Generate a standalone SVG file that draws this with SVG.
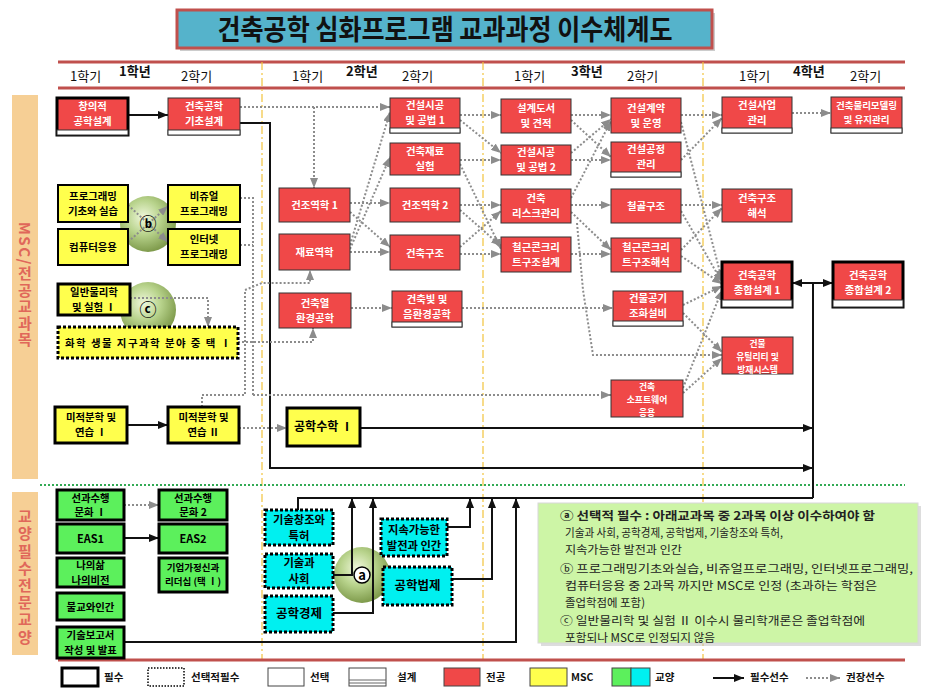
<svg xmlns="http://www.w3.org/2000/svg" width="929" height="695" viewBox="0 0 929 695">
<style>
text{font-family:"Noto Sans CJK KR","Noto Sans",sans-serif;}
.r{fill:#f04848;stroke:#333;stroke-width:1}
.y{fill:#ffff4d;stroke:#000;stroke-width:2}
.g{fill:#5cf05c;stroke:#000;stroke-width:3}
.c{fill:#00f0f0;stroke:#000;stroke-width:3;stroke-dasharray:3 2}
.tk{stroke:#000;stroke-width:3}
.dt{stroke:#000;stroke-width:3;stroke-dasharray:3 2}
.strip{fill:#fff;stroke:#333;stroke-width:1}
.wt{fill:#fff;font-size:10.4px;font-weight:700;text-anchor:middle}
.bt{fill:#000;font-size:10.4px;font-weight:700;text-anchor:middle}
.ct{fill:#000;font-size:11.3px;font-weight:700;text-anchor:middle}
.d{fill:none;stroke:#8c8c8c;stroke-width:2;stroke-dasharray:2 2;marker-end:url(#ag)}
.dn{fill:none;stroke:#8c8c8c;stroke-width:2;stroke-dasharray:2 2}
.s{fill:none;stroke:#111;stroke-width:2;marker-end:url(#ab)}
.sn{fill:none;stroke:#111;stroke-width:2}
.yl{stroke:#f2c43c;stroke-width:1.2;stroke-dasharray:8 3 2 3}
.hd{font-size:13px;fill:#111}
.hy{font-size:13px;font-weight:700;fill:#111}
.nt{font-size:11.7px;fill:#222}
.lg{font-size:10.5px;font-weight:700;fill:#111}
.side{font-size:15px;font-weight:700;fill:#e0675a;writing-mode:vertical-rl;text-orientation:mixed}
</style>
<defs>
<marker id="ab" viewBox="0 0 10 8" refX="10" refY="4" markerWidth="10" markerHeight="8" markerUnits="userSpaceOnUse" orient="auto"><path d="M0,0 L10,4 L0,8 z" fill="#111"/></marker>
<marker id="ag" viewBox="0 0 10 8" refX="10" refY="4" markerWidth="10" markerHeight="8" markerUnits="userSpaceOnUse" orient="auto"><path d="M0,0 L10,4 L0,8 z" fill="#8c8c8c"/></marker>
<radialGradient id="ball" cx="42%" cy="38%" r="62%">
<stop offset="0" stop-color="#f0f8dc"/>
<stop offset="0.5" stop-color="#b8d38c"/>
<stop offset="1" stop-color="#7f9b4c"/>
</radialGradient>
</defs>
<rect width="929" height="695" fill="#fff"/>

<!-- title -->
<g id="title">
<rect x="180" y="13" width="535" height="38" fill="#999" opacity="0.5"/>
<rect x="177" y="10" width="535" height="38" fill="#55b3cb" stroke="#c0504d" stroke-width="3"/>
<text x="445" y="40" font-size="28" font-weight="700" text-anchor="middle" textLength="455" lengthAdjust="spacingAndGlyphs" fill="#111">건축공학 심화프로그램 교과과정 이수체계도</text>
</g>

<!-- header -->
<g id="header">
<line x1="58" y1="62" x2="905" y2="62" stroke="#c0504d" stroke-width="3"/>
<line x1="58" y1="88" x2="905" y2="88" stroke="#c0504d" stroke-width="3"/>
<text class="hd" x="70" y="81">1학기</text>
<text class="hy" x="119" y="76">1학년</text>
<text class="hd" x="181" y="81">2학기</text>
<text class="hd" x="292" y="81">1학기</text>
<text class="hy" x="346" y="76">2학년</text>
<text class="hd" x="402" y="81">2학기</text>
<text class="hd" x="514" y="81">1학기</text>
<text class="hy" x="571" y="76">3학년</text>
<text class="hd" x="627" y="81">2학기</text>
<text class="hd" x="739" y="81">1학기</text>
<text class="hy" x="793" y="76">4학년</text>
<text class="hd" x="850" y="81">2학기</text>
</g>

<!-- side bars -->
<g id="side-msc">
<rect x="12" y="95" width="26" height="384" fill="#f6cf95"/>
<text class="side" x="25" y="222" letter-spacing="1.5">MSC/전공교과목</text>
</g>
<g id="side-gy">
<rect x="12" y="492" width="26" height="163" fill="#f6cf95"/>
<text class="side" x="25" y="509" letter-spacing="2.2">교양필수전문교양</text>
</g>

<!-- guide lines -->
<g id="guides">
<line class="yl" x1="262" y1="62" x2="262" y2="660"/>
<line class="yl" x1="483" y1="62" x2="483" y2="660"/>
<line class="yl" x1="703" y1="62" x2="703" y2="660"/>
<line x1="40" y1="485" x2="905" y2="485" stroke="#33aa55" stroke-width="2" stroke-dasharray="2 2"/>
<line x1="58" y1="660" x2="905" y2="660" stroke="#c0504d" stroke-width="3"/>
</g>

<!-- group circles -->
<g id="circles">
<circle cx="148" cy="224" r="28" fill="url(#ball)"/>
<circle cx="148" cy="310" r="28" fill="url(#ball)"/>
<circle cx="362" cy="575" r="28" fill="url(#ball)"/>
</g>

<!-- connectors -->
<g id="connectors">
<path class="s" d="M128,115 H168"/>
<path class="s" d="M127,425 H168"/>
<path class="s" d="M124,538 H159"/>
<path class="s" d="M240,123 H270 V468 H813"/>
<path class="s" d="M360,428 H813"/>
<path class="sn" d="M813,498 V283"/>
<path class="s" d="M813,283 H792"/>
<path class="s" d="M813,283 H833"/>
<path class="sn" d="M298,510 V498 H813"/>
<path class="s" d="M333,575 H352 V498"/>
<path class="s" d="M333,613 H373 V498"/>
<path class="s" d="M447,527 H470 V498"/>
<path class="s" d="M452,579 H492 V498"/>
<path class="s" d="M124,642 H516 V498"/>
<path class="d" d="M124,505 H159"/>
<path class="d" d="M128,205 L168,242"/>
<path class="d" d="M128,242 L168,206"/>
<path class="d" d="M130,298 H208 V327"/>
<path class="d" d="M238,342 H313 V328"/>
<path class="d" d="M202,407 V395 H245 V290 L262,283 H310 V270"/>
<path class="dn" d="M240,198 H253 V395"/>
<path class="dn" d="M240,245 H253"/>
<path class="d" d="M253,395 H611"/>
<path class="d" d="M239,428 H287"/>
<path class="d" d="M240,107 H390"/>
<path class="d" d="M314,107 V188"/>
<path class="d" d="M350,203 H390"/>
<path class="d" d="M350,212 L390,247"/>
<path class="d" d="M350,252 H390"/>
<path class="d" d="M350,245 L390,112"/>
<path class="d" d="M350,249 L390,157"/>
<path class="d" d="M351,308 H392"/>
<path class="d" d="M462,308 H613"/>
<path class="d" d="M460,115 H501"/>
<path class="d" d="M460,120 L501,153"/>
<path class="d" d="M460,160 H501"/>
<path class="d" d="M460,164 L501,249"/>
<path class="d" d="M460,205 H501"/>
<path class="d" d="M460,210 L501,246"/>
<path class="d" d="M460,247 L501,211"/>
<path class="d" d="M460,254 H501"/>
<path class="d" d="M571,115 H611"/>
<path class="d" d="M571,120 L611,157"/>
<path class="d" d="M571,153 L611,119"/>
<path class="d" d="M571,160 H611"/>
<path class="d" d="M571,198 L611,121"/>
<path class="d" d="M571,205 H611"/>
<path class="d" d="M571,212 L611,250"/>
<path class="d" d="M571,254 H611"/>
<path class="d" d="M577,223 L583,290 L593,355 H722"/>
<path class="d" d="M681,115 H722"/>
<path class="d" d="M681,160 L722,118"/>
<path class="d" d="M681,122 L722,280"/>
<path class="d" d="M681,205 H722"/>
<path class="d" d="M681,250 L722,208"/>
<path class="d" d="M681,211 L722,282"/>
<path class="d" d="M681,256 L722,284"/>
<path class="d" d="M683,305 L722,286"/>
<path class="d" d="M683,313 L722,352"/>
<path class="d" d="M683,388 L722,290"/>
<path class="d" d="M683,393 L722,358"/>
<path class="d" d="M792,113 H831"/>
</g>

<!-- circle labels -->
<g id="circle-labels">
<text x="148" y="230" font-size="17" font-weight="700" text-anchor="middle" fill="#000">ⓑ</text>
<text x="148" y="316" font-size="17" font-weight="700" text-anchor="middle" fill="#000">ⓒ</text>
<circle cx="362" cy="575" r="8" fill="#fff" stroke="#000" stroke-width="1.5"/>
<text x="362" y="580" font-size="13" font-weight="700" text-anchor="middle" fill="#000">a</text>
</g>

<!-- Year 1 nodes -->
<g id="n-creative"><rect class="r tk" x="57" y="98" width="71" height="37"/><rect class="strip" x="57" y="130" width="71" height="5" stroke-width="2"/><text class="wt"><tspan x="92.5" y="110">창의적</tspan><tspan x="92.5" y="125">공학설계</tspan></text></g>
<g id="n-basic-design"><rect class="r" x="168" y="98" width="72" height="37"/><rect class="strip" x="168" y="130" width="72" height="5"/><text class="wt"><tspan x="204" y="110">건축공학</tspan><tspan x="204" y="125">기초설계</tspan></text></g>
<g id="n-prog"><rect class="y" x="58" y="185" width="70" height="37"/><text class="bt"><tspan x="93" y="200">프로그래밍</tspan><tspan x="93" y="215">기초와 실습</tspan></text></g>
<g id="n-visual"><rect class="y" x="168" y="185" width="72" height="37"/><text class="bt"><tspan x="204" y="200">비쥬얼</tspan><tspan x="204" y="215">프로그래밍</tspan></text></g>
<g id="n-comp"><rect class="y" x="58" y="229" width="70" height="36"/><text class="bt" x="93" y="251">컴퓨터응용</text></g>
<g id="n-internet"><rect class="y" x="168" y="229" width="72" height="36"/><text class="bt"><tspan x="204" y="243">인터넷</tspan><tspan x="204" y="258">프로그래밍</tspan></text></g>
<g id="n-physics"><rect class="y tk" x="58" y="284" width="72" height="31"/><text class="bt"><tspan x="94" y="296">일반물리학</tspan><tspan x="94" y="311">및 실험 Ⅰ</tspan></text></g>
<g id="n-science"><rect class="y dt" x="58" y="327" width="180" height="31"/><text class="bt" x="148" y="346.5" textLength="166" lengthAdjust="spacing">화학 생물 지구과학 분야 중 택 Ⅰ</text></g>
<g id="n-calc1"><rect class="y tk" x="55" y="407" width="72" height="36"/><text class="bt"><tspan x="91" y="421">미적분학 및</tspan><tspan x="91" y="436">연습 Ⅰ</tspan></text></g>
<g id="n-calc2"><rect class="y tk" x="168" y="407" width="71" height="36"/><text class="bt"><tspan x="203.5" y="421">미적분학 및</tspan><tspan x="203.5" y="436">연습 Ⅱ</tspan></text></g>

<!-- Year 2 nodes -->
<g id="n-const1"><rect class="r" x="390" y="98" width="70" height="35"/><rect class="strip" x="390" y="128" width="70" height="5"/><text class="wt"><tspan x="425" y="109">건설시공</tspan><tspan x="425" y="124">및 공법 1</tspan></text></g>
<g id="n-material-lab"><rect class="r" x="390" y="143" width="70" height="32"/><text class="wt"><tspan x="425" y="155">건축재료</tspan><tspan x="425" y="170">실험</tspan></text></g>
<g id="n-mech1"><rect class="r" x="279" y="188" width="71" height="34"/><text class="wt" x="314.5" y="209">건조역학 1</text></g>
<g id="n-mech2"><rect class="r" x="390" y="188" width="70" height="34"/><text class="wt" x="425" y="209">건조역학 2</text></g>
<g id="n-matmech"><rect class="r" x="279" y="234" width="71" height="36"/><text class="wt" x="314.5" y="256">재료역학</text></g>
<g id="n-struct"><rect class="r" x="390" y="235" width="70" height="35"/><text class="wt" x="425" y="256.5">건축구조</text></g>
<g id="n-thermal"><rect class="r" x="279" y="293" width="72" height="35"/><text class="wt"><tspan x="315" y="307">건축열</tspan><tspan x="315" y="322">환경공학</tspan></text></g>
<g id="n-light"><rect class="r" x="392" y="291" width="70" height="36"/><rect class="strip" x="392" y="322" width="70" height="5"/><text class="wt"><tspan x="427" y="303">건축빛 및</tspan><tspan x="427" y="318">음환경공학</tspan></text></g>
<g id="n-engmath"><rect class="y tk" x="287" y="408" width="73" height="38"/><text class="bt" x="323.5" y="431" style="font-size:12px">공학수학 Ⅰ</text></g>

<!-- Year 3 nodes -->
<g id="n-estimate"><rect class="r" x="501" y="99" width="70" height="34"/><text class="wt"><tspan x="536" y="112">설계도서</tspan><tspan x="536" y="127">및 견적</tspan></text></g>
<g id="n-const2"><rect class="r" x="501" y="145" width="70" height="30"/><text class="wt"><tspan x="536" y="156">건설시공</tspan><tspan x="536" y="171">및 공법 2</tspan></text></g>
<g id="n-risk"><rect class="r" x="501" y="189" width="70" height="34"/><text class="wt"><tspan x="536" y="202">건축</tspan><tspan x="536" y="217">리스크관리</tspan></text></g>
<g id="n-rc-design"><rect class="r" x="501" y="237" width="70" height="35"/><text class="wt"><tspan x="536" y="251">철근콘크리</tspan><tspan x="536" y="266">트구조설계</tspan></text></g>
<g id="n-contract"><rect class="r" x="611" y="98" width="70" height="35"/><text class="wt"><tspan x="646" y="112">건설계약</tspan><tspan x="646" y="127">및 운영</tspan></text></g>
<g id="n-schedule"><rect class="r" x="611" y="142" width="70" height="35"/><rect class="strip" x="611" y="172" width="70" height="5"/><text class="wt"><tspan x="646" y="153">건설공정</tspan><tspan x="646" y="168">관리</tspan></text></g>
<g id="n-steel"><rect class="r" x="611" y="189" width="70" height="34"/><text class="wt" x="646" y="210">철골구조</text></g>
<g id="n-rc-analysis"><rect class="r" x="611" y="238" width="70" height="34"/><text class="wt"><tspan x="646" y="251">철근콘크리</tspan><tspan x="646" y="266">트구조해석</tspan></text></g>
<g id="n-hvac"><rect class="r" x="613" y="291" width="70" height="35"/><rect class="strip" x="613" y="321" width="70" height="5"/><text class="wt"><tspan x="648" y="302">건물공기</tspan><tspan x="648" y="317">조화설비</tspan></text></g>
<g id="n-software"><rect class="r" x="611" y="380" width="72" height="37"/><text class="wt" style="font-size:8.8px"><tspan x="647" y="389.5">건축</tspan><tspan x="647" y="402.5">소프트웨어</tspan><tspan x="647" y="415.5">응용</tspan></text></g>

<!-- Year 4 nodes -->
<g id="n-pm"><rect class="r" x="722" y="97" width="70" height="36"/><rect class="strip" x="722" y="128" width="70" height="5"/><text class="wt"><tspan x="757" y="109">건설사업</tspan><tspan x="757" y="124">관리</tspan></text></g>
<g id="n-bim"><rect class="r" x="831" y="97" width="71" height="36"/><rect class="strip" x="831" y="128" width="71" height="5"/><text class="wt" style="font-size:9.5px"><tspan x="866.5" y="109">건축물리모델링</tspan><tspan x="866.5" y="123">및 유지관리</tspan></text></g>
<g id="n-struct-analysis"><rect class="r" x="722" y="189" width="70" height="33"/><text class="wt"><tspan x="757" y="202">건축구조</tspan><tspan x="757" y="217">해석</tspan></text></g>
<g id="n-capstone1"><rect class="r tk" x="722" y="262" width="70" height="45"/><rect class="strip" x="722" y="300" width="70" height="7" stroke-width="2"/><text class="wt"><tspan x="757" y="279">건축공학</tspan><tspan x="757" y="294">종합설계 1</tspan></text></g>
<g id="n-capstone2"><rect class="r tk" x="833" y="262" width="70" height="45"/><rect class="strip" x="833" y="300" width="70" height="7" stroke-width="2"/><text class="wt"><tspan x="868" y="279">건축공학</tspan><tspan x="868" y="294">종합설계 2</tspan></text></g>
<g id="n-utility"><rect class="r" x="722" y="337" width="71" height="37"/><text class="wt" style="font-size:8.8px"><tspan x="757.5" y="346.5">건물</tspan><tspan x="757.5" y="359.5">유틸리티 및</tspan><tspan x="757.5" y="372.5">방재시스템</tspan></text></g>

<!-- liberal arts nodes -->
<g id="n-zen1"><rect class="g" x="57" y="490" width="67" height="30"/><text class="bt"><tspan x="90.5" y="501.5">선과수행</tspan><tspan x="90.5" y="516">문화 Ⅰ</tspan></text></g>
<g id="n-zen2"><rect class="g" x="159" y="490" width="68" height="30"/><text class="bt"><tspan x="193" y="501.5">선과수행</tspan><tspan x="193" y="516">문화 2</tspan></text></g>
<g id="n-eas1"><rect class="g" x="57" y="524" width="67" height="29"/><text class="bt" x="90.5" y="542.5" style="font-size:11px">EAS1</text></g>
<g id="n-eas2"><rect class="g" x="159" y="524" width="68" height="29"/><text class="bt" x="193" y="542.5" style="font-size:11px">EAS2</text></g>
<g id="n-vision"><rect class="g" x="57" y="558" width="67" height="29"/><text class="bt"><tspan x="90.5" y="569">나의삶</tspan><tspan x="90.5" y="584">나의비전</tspan></text></g>
<g id="n-leader"><rect class="g" x="159" y="558" width="68" height="34"/><text class="bt" style="font-size:9.5px"><tspan x="193" y="571">기업가정신과</tspan><tspan x="193" y="585">리더십 (택 Ⅰ)</tspan></text></g>
<g id="n-buddhism"><rect class="g" x="57" y="593" width="67" height="27"/><text class="bt" x="90.5" y="610.5">불교와인간</text></g>
<g id="n-report"><rect class="g" x="57" y="627" width="67" height="31"/><text class="bt"><tspan x="90.5" y="639">기술보고서</tspan><tspan x="90.5" y="654">작성 및 발표</tspan></text></g>

<g id="n-patent"><rect class="c" x="265" y="510" width="68" height="35"/><text class="ct"><tspan x="299" y="523.5">기술창조와</tspan><tspan x="299" y="539.5">특허</tspan></text></g>
<g id="n-society"><rect class="c" x="265" y="554" width="68" height="34"/><text class="ct"><tspan x="299" y="567">기술과</tspan><tspan x="299" y="583">사회</tspan></text></g>
<g id="n-econ"><rect class="c" x="265" y="596" width="68" height="36"/><text class="ct" x="299" y="618" style="font-size:12.5px">공학경제</text></g>
<g id="n-sustain"><rect class="c" x="381" y="519" width="66" height="37"/><text class="ct"><tspan x="414" y="533.5">지속가능한</tspan><tspan x="414" y="549.5">발전과 인간</tspan></text></g>
<g id="n-law"><rect class="c" x="383" y="567" width="69" height="38"/><text class="ct" x="417.5" y="590" style="font-size:12.5px">공학법제</text></g>

<!-- note -->
<g id="note">
<rect x="541" y="506" width="380" height="140" fill="#bbb" opacity="0.5"/>
<rect x="538" y="503" width="380" height="140" fill="#cdf5a6" stroke="#d8d8d8" stroke-width="1"/>
<text class="nt">
<tspan x="560" y="520" font-weight="700" textLength="315" lengthAdjust="spacingAndGlyphs">ⓐ 선택적 필수 : 아래교과목 중 2과목 이상 이수하여야 함</tspan>
<tspan x="565" y="537" textLength="218" lengthAdjust="spacingAndGlyphs">기술과 사회, 공학경제, 공학법제, 기술창조와 특허,</tspan>
<tspan x="565" y="554" textLength="117" lengthAdjust="spacingAndGlyphs">지속가능한 발전과 인간</tspan>
<tspan x="560" y="573" textLength="353" lengthAdjust="spacingAndGlyphs">ⓑ 프로그래밍기초와실습, 비쥬얼프로그래밍, 인터넷프로그래밍,</tspan>
<tspan x="565" y="590" textLength="312" lengthAdjust="spacingAndGlyphs">컴퓨터응용 중 2과목 까지만 MSC로 인정 (초과하는 학점은</tspan>
<tspan x="565" y="607" textLength="80" lengthAdjust="spacingAndGlyphs">졸업학점에 포함)</tspan>
<tspan x="560" y="625" textLength="305" lengthAdjust="spacingAndGlyphs">ⓒ 일반물리학 및 실험 Ⅱ 이수시 물리학개론은 졸업학점에</tspan>
<tspan x="565" y="642" textLength="150" lengthAdjust="spacingAndGlyphs">포함되나 MSC로 인정되지 않음</tspan>
</text>
</g>

<!-- legend -->
<g id="legend">
<rect x="62" y="668" width="36" height="18" fill="#fff" stroke="#000" stroke-width="3"/>
<text class="lg" x="104" y="681">필수</text>
<rect x="148" y="668" width="36" height="18" fill="#fff" stroke="#000" stroke-width="1.5" stroke-dasharray="1.5 1.5"/>
<text class="lg" x="191" y="681">선택적필수</text>
<rect x="268" y="668" width="36" height="18" fill="#fff" stroke="#444" stroke-width="1"/>
<text class="lg" x="310" y="681">선택</text>
<rect x="349" y="668" width="37" height="18" fill="#fff" stroke="#444" stroke-width="1"/>
<line x1="349" y1="680" x2="386" y2="680" stroke="#666" stroke-width="1"/>
<line x1="349" y1="683" x2="386" y2="683" stroke="#666" stroke-width="1"/>
<text class="lg" x="397" y="681">설계</text>
<rect x="444" y="668" width="36" height="18" fill="#f04848" stroke="#444" stroke-width="1"/>
<text class="lg" x="486" y="681">전공</text>
<rect x="530" y="668" width="37" height="18" fill="#ffff4d" stroke="#444" stroke-width="1"/>
<text class="lg" x="571" y="681">MSC</text>
<rect x="612" y="668" width="19" height="18" fill="#5cf05c" stroke="#444" stroke-width="1"/>
<rect x="631" y="668" width="19" height="18" fill="#00f0f0" stroke="#444" stroke-width="1"/>
<text class="lg" x="655" y="681">교양</text>
<path class="s" d="M713,678 H744"/>
<text class="lg" x="750" y="681">필수선수</text>
<path class="d" d="M806,678 H840"/>
<text class="lg" x="846" y="681">권장선수</text>
</g>
</svg>
